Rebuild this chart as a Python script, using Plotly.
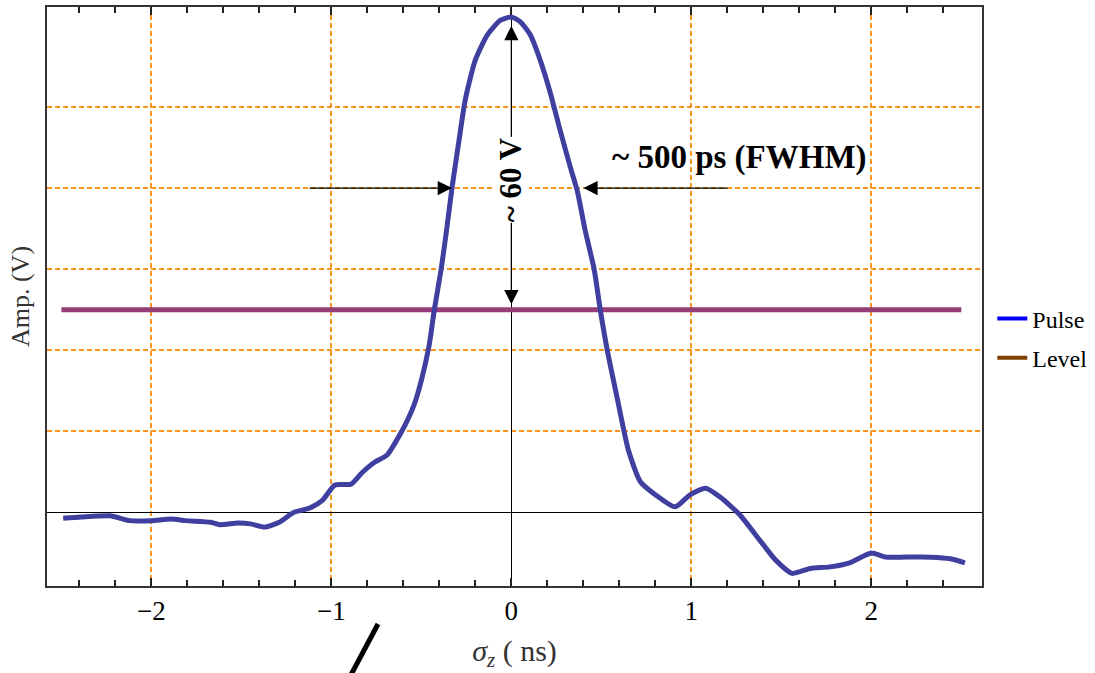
import plotly.graph_objects as go

# Pulse trace: time (ns) and amplitude (V)
t_ns = [-2.49, -2.39, -2.23, -2.12, -2.0, -1.89, -1.81, -1.67, -1.62, -1.52,
        -1.45, -1.37, -1.29, -1.21, -1.12, -1.05, -0.98, -0.89, -0.83, -0.76,
        -0.69, -0.64, -0.59, -0.54, -0.50, -0.456, -0.428, -0.39, -0.36, -0.33,
        -0.29, -0.256, -0.20, -0.133, -0.06, 0.0, 0.05, 0.105, 0.16, 0.217,
        0.27, 0.33, 0.367, 0.41, 0.46, 0.494, 0.533, 0.59, 0.65, 0.717,
        0.80, 0.91, 0.994, 1.08, 1.16, 1.27, 1.38, 1.47, 1.56, 1.66,
        1.77, 1.88, 2.0, 2.08, 2.16, 2.33, 2.44, 2.52]
amp_v = [-0.7, -0.55, -0.4, -1.0, -1.0, -0.8, -1.0, -1.2, -1.5, -1.3,
         -1.4, -1.8, -1.2, 0.0, 0.55, 1.5, 3.4, 3.5, 4.9, 6.2,
         7.1, 8.8, 10.8, 13.3, 16.3, 20.7, 25.0, 30.0, 34.8, 40.0,
         46.0, 50.9, 55.8, 58.9, 60.7, 61.1, 60.5, 58.9, 55.8, 51.7,
         47.2, 42.4, 39.6, 34.8, 30.0, 25.0, 20.0, 13.9, 7.7, 3.8,
         2.2, 0.7, 2.2, 3.0, 1.9, -0.3, -3.4, -5.9, -7.5, -6.9,
         -6.7, -6.2, -5.0, -5.5, -5.5, -5.5, -5.7, -6.2]

# Reference level
level_t = [-2.5, 2.5]
level_v = [25.0, 25.0]

# Marked quantities
peak_v = 60.0
fwhm_level_v = 40.0
fwhm_left = [-1.13, -0.33]
fwhm_right = [1.21, 0.40]

x_ticks = [-2, -1, 0, 1, 2]
y_grid = [0, 10, 20, 30, 40, 50]

SERIF = "Liberation Serif, Times New Roman, serif"
ORANGE = "#F7941E"

fig = go.Figure()

fig.add_trace(go.Scatter(x=level_t, y=level_v, mode="lines",
                         line=dict(color="#963D79", width=5),
                         showlegend=False, hoverinfo="skip"))
fig.add_trace(go.Scatter(x=t_ns, y=amp_v, mode="lines",
                         line=dict(color="#3F3FA0", width=5, shape="spline", smoothing=0.6),
                         showlegend=False))

# Legend entries
fig.add_trace(go.Scatter(x=[None], y=[None], mode="lines", name="Pulse",
                         legendgroup="p", line=dict(color="#0000FF", width=4)))
fig.add_trace(go.Scatter(x=[None], y=[None], mode="lines", name="Level",
                         legendgroup="l", line=dict(color="#7F3F00", width=4)))

# FWHM arrows
arrow_style = dict(xref="x", yref="y", axref="x", ayref="y", text="", showarrow=True,
                   arrowhead=2, arrowsize=2.2, arrowwidth=1.3, arrowcolor="black", standoff=0)
fig.add_annotation(x=fwhm_left[1], y=fwhm_level_v, ax=fwhm_left[0], ay=fwhm_level_v, **arrow_style)
fig.add_annotation(x=fwhm_right[1], y=fwhm_level_v, ax=fwhm_right[0], ay=fwhm_level_v, **arrow_style)
# Amplitude double arrow
fig.add_annotation(x=0, y=peak_v, ax=0, ay=level_v[0] + 0.5,
                   xref="x", yref="y", axref="x", ayref="y", text="",
                   showarrow=True, arrowhead=2, startarrowhead=2, arrowside="end+start",
                   arrowsize=2.2, startarrowsize=2.2, arrowwidth=1.3,
                   arrowcolor="black", standoff=0, startstandoff=0)

fig.add_annotation(x=1.27, y=43.8, xref="x", yref="y", text="<b>~ 500 ps (FWHM)</b>",
                   showarrow=False, font=dict(family=SERIF, size=33, color="black"))
fig.add_annotation(x=0, y=41, xref="x", yref="y", text="<b>~ 60 V</b>", textangle=-90,
                   showarrow=False, bgcolor="white", borderpad=0,
                   font=dict(family=SERIF, size=31, color="black"))

# Stray stroke below the axis
fig.add_shape(type="line", xref="paper", yref="paper",
              x0=0.354, y0=-0.0656, x1=0.3222, y1=-0.1623,
              line=dict(color="black", width=5))

fig.update_xaxes(range=[-2.58, 2.615], tickvals=x_ticks,
                 ticks="inside", ticklen=8, tickwidth=1.5, tickcolor="#222",
                 minor=dict(tickvals=[round(-2.4 + 0.2 * i, 1) for i in range(25)],
                            ticks="inside", ticklen=6, tickwidth=1.5,
                            tickcolor="#222", showgrid=False),
                 showgrid=True, gridcolor=ORANGE, gridwidth=1.5, griddash="5px,3px",
                 zeroline=True, zerolinecolor="black", zerolinewidth=1.3,
                 showline=True, linecolor="#333", linewidth=1.5, mirror="ticks",
                 tickfont=dict(family=SERIF, size=27, color="black"),
                 title=dict(text="<i>σ</i><sub><i>z</i></sub> ( ns)",
                            font=dict(family=SERIF, size=30, color="#333"), standoff=15))
fig.update_yaxes(range=[-9.06, 62.33], tickvals=y_grid, showticklabels=False, ticks="",
                 showgrid=True, gridcolor=ORANGE, gridwidth=1.5, griddash="5px,3px",
                 zeroline=True, zerolinecolor="black", zerolinewidth=1.3,
                 showline=True, linecolor="#333", linewidth=1.5, mirror=True,
                 title=dict(text="Amp. (V)", font=dict(family=SERIF, size=26, color="#333"),
                            standoff=8))

fig.update_layout(
    template="none",
    width=1095, height=673,
    margin=dict(l=47, r=113, t=7, b=87, autoexpand=False),
    paper_bgcolor="white", plot_bgcolor="white",
    legend=dict(x=1.011, y=0.5, xanchor="left", yanchor="top",
                font=dict(family=SERIF, size=24, color="black"),
                tracegroupgap=5, bgcolor="rgba(0,0,0,0)"),
)

fig.write_html("out.html")
